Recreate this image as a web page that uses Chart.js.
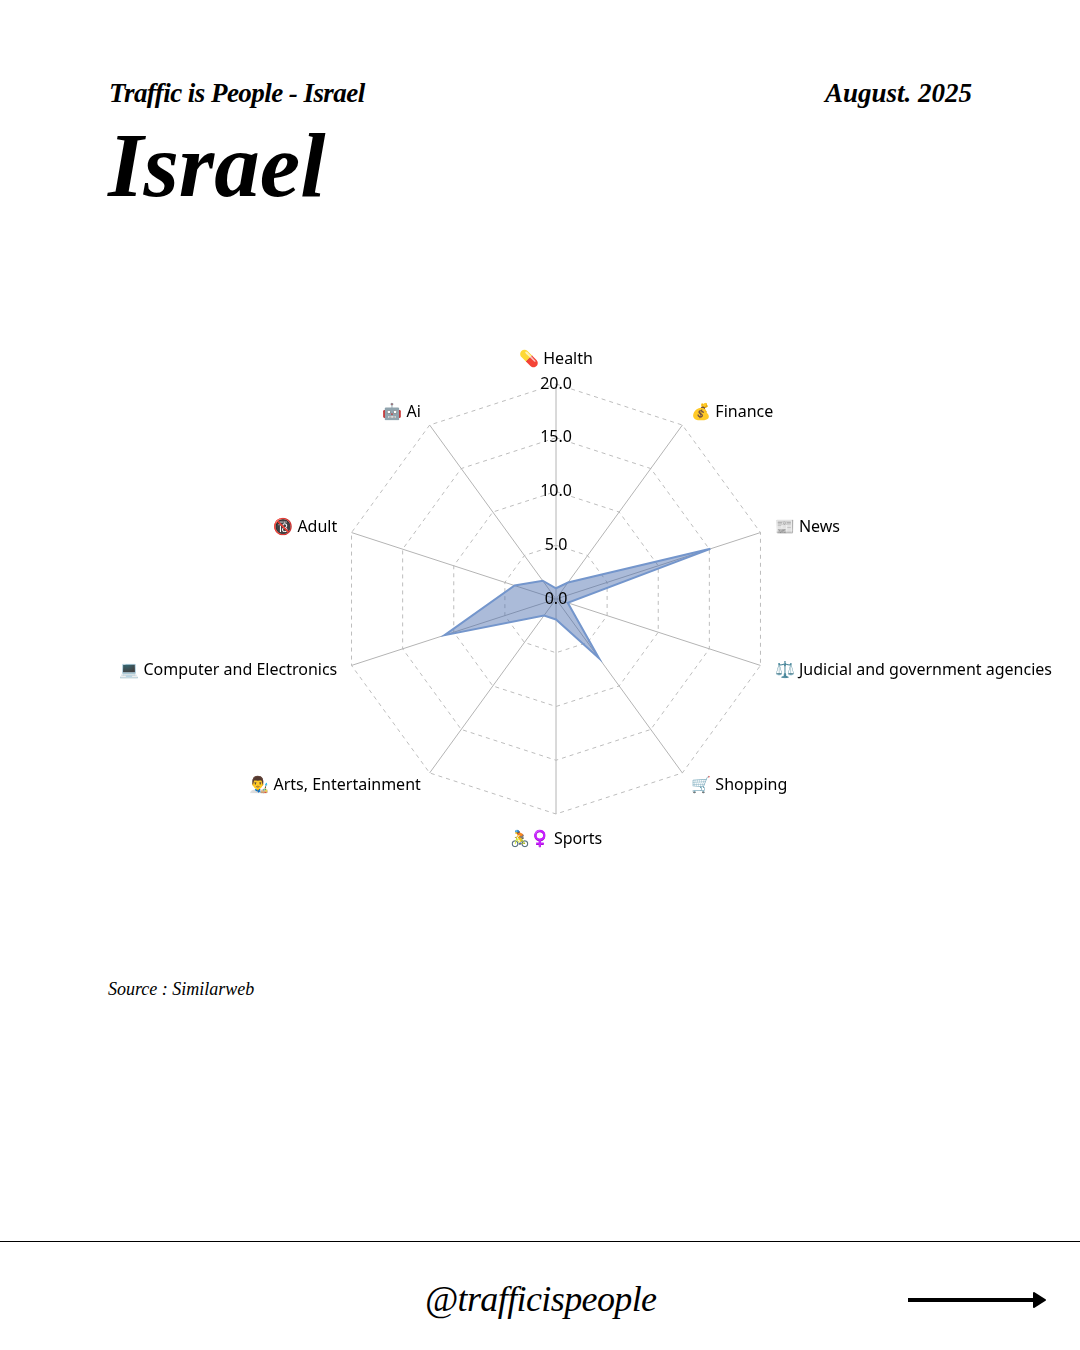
<!DOCTYPE html>
<html>
<head>
<meta charset="utf-8">
<script src="https://cdn.jsdelivr.net/npm/chart.js@4"></script>
<style>
  body { margin: 0; background: #fff; width: 1080px; height: 1350px; position: relative; overflow: hidden; color: #000; }
  .serif { position: absolute; font-family: "Liberation Serif", serif; font-style: italic; white-space: nowrap; }
  #kicker { left: 109px; top: 78px; font-size: 27px; font-weight: bold; letter-spacing: -0.55px; }
  #date { left: 825px; top: 78px; font-size: 27px; font-weight: bold; }
  #title { left: 108px; top: 116px; font-size: 91px; font-weight: bold; line-height: 100px; }
  #source { left: 108px; top: 979px; font-size: 18px; }
  #handle { left: 425px; top: 1278px; font-size: 36px; letter-spacing: -0.6px; }
  #rule { position: absolute; left: 0; top: 1241px; width: 1080px; height: 1px; background: #000; }
  #arrow { position: absolute; left: 908px; top: 1290px; }
  #chartBox { position: absolute; left: 33px; top: 320px; width: 1047px; height: 600px; }
</style>
</head>
<body>
<div class="serif" id="kicker">Traffic is People - Israel</div>
<div class="serif" id="date">August. 2025</div>
<div class="serif" id="title">Israel</div>
<div id="chartBox"><canvas id="radar"></canvas></div>
<div class="serif" id="source">Source : Similarweb</div>
<div id="rule"></div>
<div class="serif" id="handle">@trafficispeople</div>
<svg id="arrow" width="140" height="20"><path d="M0 10H128" stroke="#000" stroke-width="4"/><path d="M126 3L137 10L126 17Z" fill="#000" stroke="#000" stroke-width="2" stroke-linejoin="round"/></svg>
<script>
const categories = [
  "💊 Health", "💰 Finance", "📰 News", "⚖️ Judicial and government agencies", "🛒 Shopping",
  "🚴♀️ Sports", "👨‍🎨 Arts, Entertainment", "💻 Computer and Electronics", "🔞 Adult", "🤖 Ai",
];
const shareValues = [1.0, 1.9, 15.1, 1.15, 6.8, 1.9, 1.9, 10.9, 4.05, 2.1];
const tickMax = 20;
const tickStep = 5;
const labelGap = 15;
const labelGapVertical = 17;

// built in point labels sit too far from the corners, and the 0.0 tick is skipped,
// so both get drawn here from the scale's own positions
const extraText = {
  id: "extraText",
  afterDraw(chart) {
    const scale = chart.scales.r;
    const ctx = chart.ctx;
    ctx.save();
    ctx.font = '16px "Noto Sans"';
    ctx.fillStyle = "#000";
    ctx.textAlign = "center";
    ctx.textBaseline = "middle";
    ctx.fillText("0.0", scale.xCenter, scale.yCenter);

    categories.forEach((label, i) => {
      const isTop = i === 0;
      const isBottom = i === categories.length / 2;
      const gap = isTop || isBottom ? labelGapVertical : labelGap;
      const p = scale.getPointPosition(i, scale.drawingArea + gap);
      const dx = p.x - scale.xCenter;
      ctx.textAlign = isTop || isBottom ? "center" : dx > 0 ? "left" : "right";
      ctx.textBaseline = isTop ? "bottom" : isBottom ? "top" : "middle";
      ctx.fillText(label, p.x, p.y);
    });
    ctx.restore();
  },
};

new Chart(document.getElementById("radar"), {
  type: "radar",
  data: {
    labels: categories,
    datasets: [{
      data: shareValues,
      backgroundColor: "rgba(72,107,172,0.46)",
      borderColor: "#7496cc",
      borderWidth: 2,
      pointRadius: 0,
    }],
  },
  options: {
    responsive: true,
    maintainAspectRatio: false,
    animation: false,
    layout: { padding: { top: 54, bottom: 96 } },
    plugins: { legend: { display: false }, tooltip: { enabled: false } },
    scales: {
      r: {
        min: 0,
        max: tickMax,
        beginAtZero: true,
        angleLines: { color: "#b4b4b4", lineWidth: 1 },
        grid: { color: "#bdbdbd", lineWidth: 1 },
        border: { dash: [4, 4] },
        pointLabels: { display: false },
        ticks: {
          stepSize: tickStep,
          z: 1,
          color: "#000",
          showLabelBackdrop: false,
          font: { family: '"Noto Sans"', size: 16 },
          callback: (v) => v.toFixed(1),
        },
      },
    },
  },
  plugins: [extraText],
});
</script>
</body>
</html>
